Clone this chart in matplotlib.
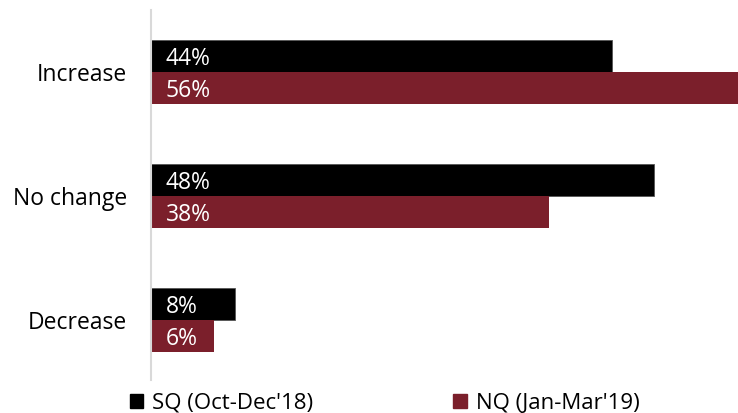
import matplotlib.pyplot as plt
from matplotlib.patches import Patch

categorias = ['Increase', 'No change', 'Decrease']
sq_valores = [44, 48, 8]
nq_valores = [56, 38, 6]
serie_nomes = ["SQ (Oct-Dec'18)", "NQ (Jan-Mar'19)"]

cor_sq = '#000000'
cor_nq = '#7b1f2b'

plt.rcParams['font.family'] = ['Open Sans', 'DejaVu Sans']

fig = plt.figure(figsize=(7.38, 4.13), dpi=100)
ax = fig.add_axes([151 / 738, 33 / 413, 587 / 738, 370 / 413])

altura = 0.258
desloc = 0.02  # leve ajuste vertical do texto dentro das barras
posicoes = range(len(categorias))

for i, (sq, nq) in enumerate(zip(sq_valores, nq_valores)):
    ax.barh(i - altura / 2, sq, height=altura, color=cor_sq, edgecolor='#555555', linewidth=0.6)
    ax.barh(i + altura / 2, nq, height=altura, color=cor_nq, linewidth=0)
    ax.text(1.4, i - altura / 2 + desloc, f'{sq}%', color='white', va='center', ha='left', fontsize=16.5)
    ax.text(1.4, i + altura / 2 + desloc, f'{nq}%', color='white', va='center', ha='left', fontsize=16.5)

ax.set_xlim(0, 56)
ax.set_ylim(2.48, -0.5)
ax.set_yticks(list(posicoes))
ax.set_yticklabels(categorias, fontsize=16.5)
ax.tick_params(axis='y', length=0, pad=17)
ax.set_xticks([])

for lado in ['top', 'right', 'bottom']:
    ax.spines[lado].set_visible(False)
ax.spines['left'].set_color('#d9d9d9')
ax.spines['left'].set_linewidth(1.5)

handles = [Patch(color=cor_sq), Patch(color=cor_nq)]
fig.legend(handles, serie_nomes, loc='lower left', bbox_to_anchor=(110 / 738, -0.05),
           ncol=2, frameon=False, fontsize=16, handlelength=0.6, handleheight=0.6,
           handletextpad=0.4, columnspacing=6.3)

fig.savefig('out.png', dpi=100)
